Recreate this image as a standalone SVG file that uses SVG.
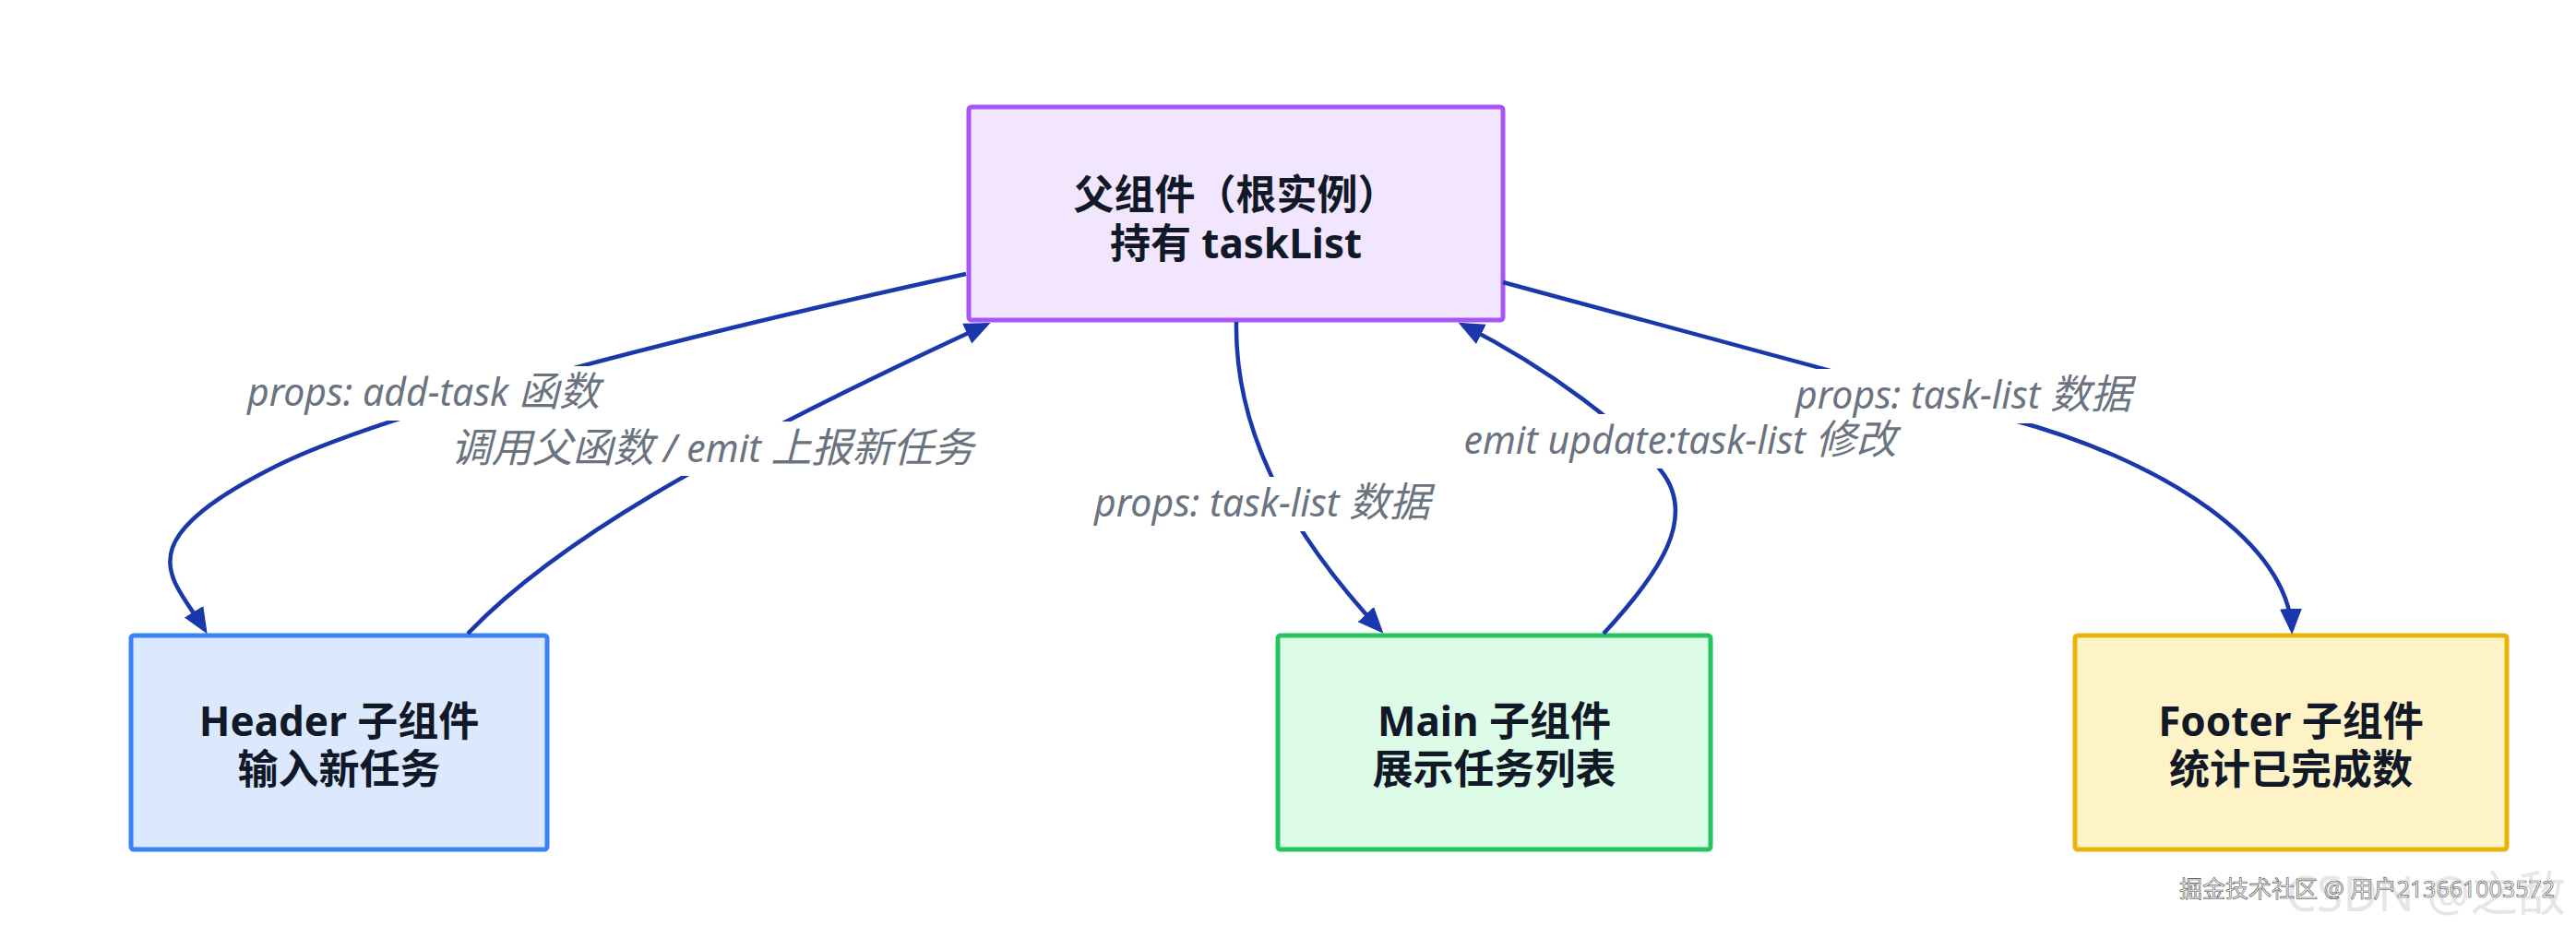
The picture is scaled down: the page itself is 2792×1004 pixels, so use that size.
<svg xmlns="http://www.w3.org/2000/svg" width="2792" height="1004" viewBox="0 0 2792 1004">
<defs>
<marker id="arr" markerUnits="userSpaceOnUse" markerWidth="32" markerHeight="28" refX="23" refY="12" orient="auto">
<path d="M0,0 L28,12 L0,24 Z" fill="#1a38ab"/>
</marker>
<style>
.node rect{stroke-width:5}
.ntxt{font-family:"Noto Sans","Noto Sans CJK SC",sans-serif;font-weight:bold;font-size:44px;fill:#111827;text-anchor:middle}
.edge{fill:none;stroke:#1a38ab;stroke-width:4.5;marker-end:url(#arr)}
.lbg{fill:#ffffff}
.ltxt{font-family:"Noto Sans","Noto Sans CJK SC",sans-serif;font-style:italic;font-size:41px;fill:#6b7280;text-anchor:middle}
.c{font-size:44px}
</style>
</defs>
<rect width="2792" height="1004" fill="#ffffff"/>
<g id="parent" class="node">
<rect x="1050" y="116" width="579" height="231" rx="3" fill="#f1e6fd" stroke="#a855f7"/>
<text class="ntxt" x="1339.5" y="227">父组件（根实例）</text>
<text class="ntxt" x="1339.5" y="280">持有 taskList</text>
</g>
<g id="header" class="node">
<rect x="142" y="689" width="451" height="232" rx="3" fill="#dbe8fd" stroke="#3b82f6"/>
<text class="ntxt" x="367.5" y="798">Header 子组件</text>
<text class="ntxt" x="367.5" y="850">输入新任务</text>
</g>
<g id="main" class="node">
<rect x="1385" y="689" width="469" height="232" rx="3" fill="#dcfce7" stroke="#22c55e"/>
<text class="ntxt" x="1619.5" y="798">Main 子组件</text>
<text class="ntxt" x="1619.5" y="850">展示任务列表</text>
</g>
<g id="footer" class="node">
<rect x="2249" y="689" width="468" height="232" rx="3" fill="#fef3c7" stroke="#eab308"/>
<text class="ntxt" x="2483" y="798">Footer 子组件</text>
<text class="ntxt" x="2483" y="850">统计已完成数</text>
</g>
<g id="connectors">
<path class="edge" d="M1047,297 C760,360 419,445 300,505 C130,590 188,627 222,683"/>
<path class="edge" d="M507,687 C600,590 760,495 1069,352"/>
<path class="edge" d="M1340,349 C1338,470 1400,580 1496,683"/>
<path class="edge" d="M1738,687 C1800,620 1840,560 1800,510 C1764,465 1680,400 1585,352"/>
<path class="edge" d="M1629,306 L2180,455 C2350,501 2480,590 2484,683"/>
<rect class="lbg" x="256" y="397" width="406" height="59"/>
<rect class="lbg" x="478" y="457" width="588" height="59"/>
<rect class="lbg" x="1176" y="517" width="384" height="59"/>
<rect class="lbg" x="1575" y="449" width="492" height="59"/>
<rect class="lbg" x="1935" y="400" width="386" height="59"/>
<text class="ltxt" x="459" y="440">props: add-task <tspan class="c">函数</tspan></text>
<text class="ltxt" x="772" y="501"><tspan class="c">调用父函数</tspan> / emit <tspan class="c">上报新任务</tspan></text>
<text class="ltxt" x="1368" y="560">props: task-list <tspan class="c">数据</tspan></text>
<text class="ltxt" x="1821" y="492">emit update:task-list <tspan class="c">修改</tspan></text>
<text class="ltxt" x="2128" y="443">props: task-list <tspan class="c">数据</tspan></text>
</g>
<text x="2478" y="988" font-family="'Noto Sans','Noto Sans CJK SC',sans-serif" font-size="52" fill="#e6e6e6">CSDN @之敌</text>
<text x="2362" y="973" font-family="'Noto Sans','Noto Sans CJK SC',sans-serif" font-size="25" fill="#f6f6f6" stroke="#4a4a4a" stroke-width="0.6">掘金技术社区 @ 用户213661003572</text>
</svg>
